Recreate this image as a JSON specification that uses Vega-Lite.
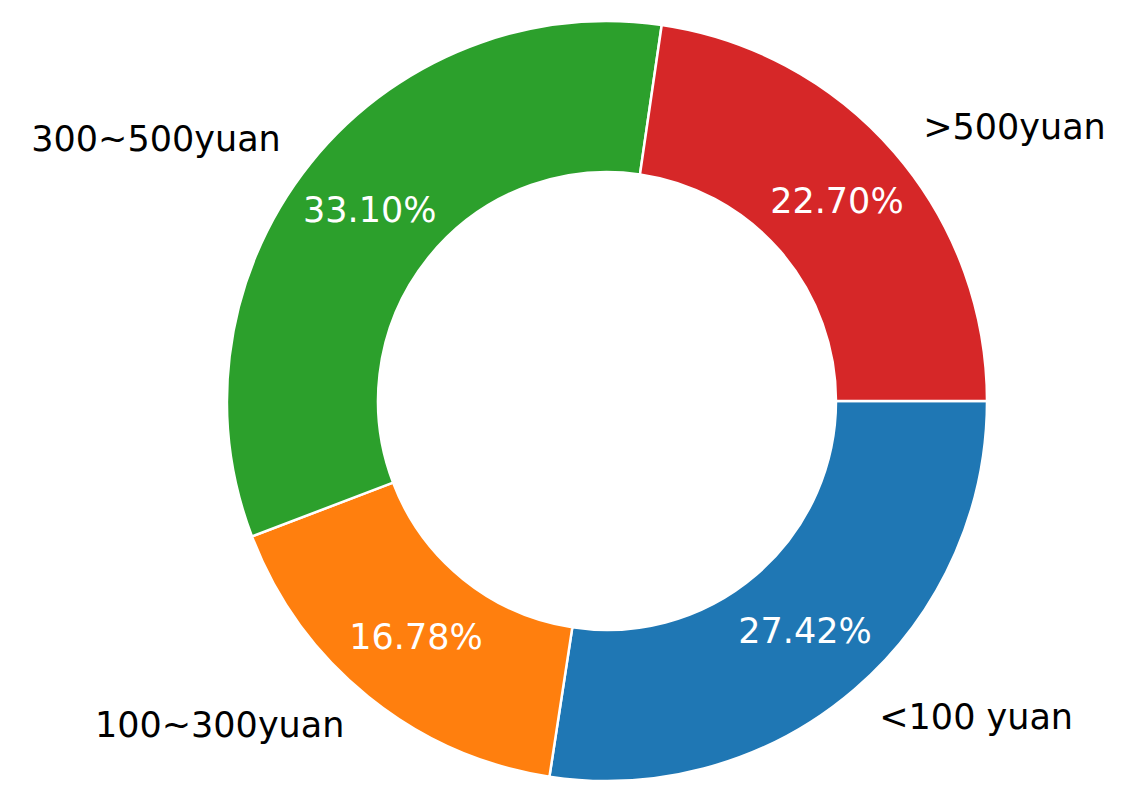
{
  "$schema": "https://vega.github.io/schema/vega-lite/v6.json",
  "autosize": {"type": "none"},
  "width": 1046,
  "height": 802,
  "padding": {"left": 84, "top": 0, "right": 1, "bottom": 3},
  "background": "white",
  "config": {"view": {"stroke": null}},
  "data": {
    "values": [
      {"category": "<100 yuan", "value": 27.42, "pct": "27.42%", "order": 1},
      {"category": "100~300yuan", "value": 16.78, "pct": "16.78%", "order": 2},
      {"category": "300~500yuan", "value": 33.10, "pct": "33.10%", "order": 3},
      {"category": ">500yuan", "value": 22.70, "pct": "22.70%", "order": 4}
    ]
  },
  "transform": [
    {"stack": "value", "groupby": [], "sort": [{"field": "order", "order": "ascending"}], "as": ["v0", "v1"]},
    {"calculate": "(datum.v0 + datum.v1) / 2", "as": "mid"}
  ],
  "encoding": {
    "theta": {
      "type": "quantitative",
      "scale": {"domain": [0, 100], "range": [1.5707963, 7.8539816]}
    }
  },
  "layer": [
    {
      "mark": {"type": "arc", "outerRadius": 380, "innerRadius": 229, "stroke": "white", "strokeWidth": 2.5},
      "encoding": {
        "theta": {"field": "v0", "type": "quantitative", "scale": {"domain": [0, 100], "range": [1.5707963, 7.8539816]}},
        "theta2": {"field": "v1"},
        "color": {
          "field": "category",
          "type": "nominal",
          "legend": null,
          "scale": {
            "domain": ["<100 yuan", "100~300yuan", "300~500yuan", ">500yuan"],
            "range": ["#1f77b4", "#ff7f0e", "#2ca02c", "#d62728"]
          }
        }
      }
    },
    {
      "mark": {"type": "text", "radius": 304, "font": "DejaVu Sans", "fontSize": 35, "color": "white", "align": "center", "baseline": "middle"},
      "encoding": {
        "theta": {"field": "mid", "type": "quantitative", "scale": {"domain": [0, 100], "range": [1.5707963, 7.8539816]}},
        "text": {"field": "pct"}
      }
    },
    {
      "transform": [{"filter": {"field": "category", "oneOf": ["<100 yuan", ">500yuan"]}}],
      "mark": {"type": "text", "radius": 418, "font": "DejaVu Sans", "fontSize": 35, "color": "black", "align": "left", "baseline": "middle"},
      "encoding": {
        "theta": {"field": "mid", "type": "quantitative", "scale": {"domain": [0, 100], "range": [1.5707963, 7.8539816]}},
        "text": {"field": "category"}
      }
    },
    {
      "transform": [{"filter": {"field": "category", "oneOf": ["100~300yuan", "300~500yuan"]}}],
      "mark": {"type": "text", "radius": 418, "font": "DejaVu Sans", "fontSize": 35, "color": "black", "align": "right", "baseline": "middle"},
      "encoding": {
        "theta": {"field": "mid", "type": "quantitative", "scale": {"domain": [0, 100], "range": [1.5707963, 7.8539816]}},
        "text": {"field": "category"}
      }
    }
  ]
}
